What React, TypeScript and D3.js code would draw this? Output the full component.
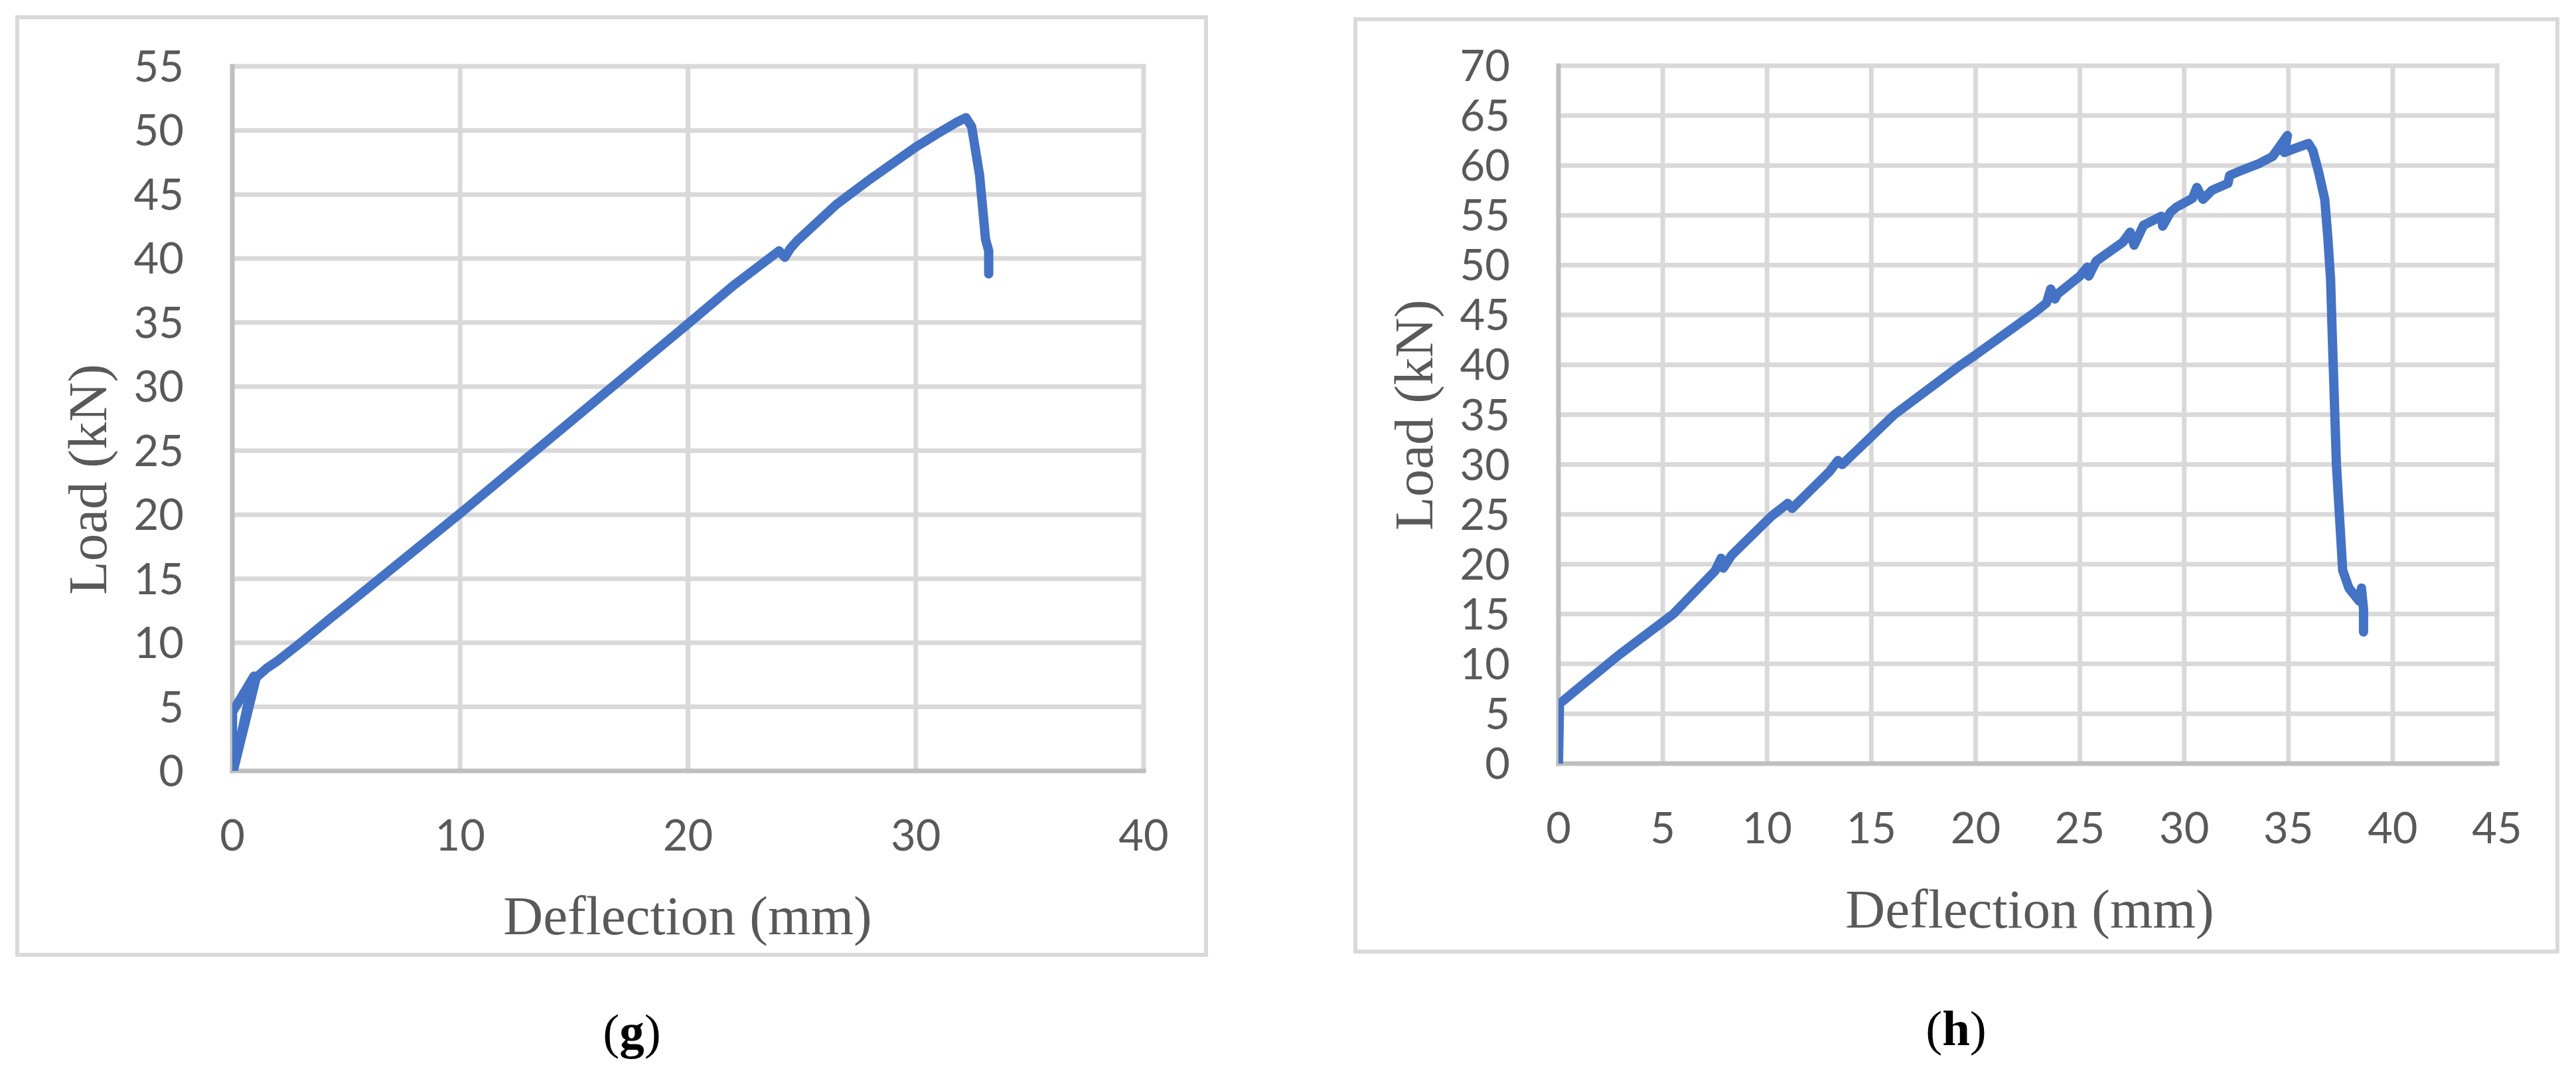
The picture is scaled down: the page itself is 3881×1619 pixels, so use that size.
import React from "react";
import * as d3 from "d3";

// ---- data ----
const gDeflection = [0, 0.01, 0.95, 0.05, 1.05, 1.5, 2.0, 3.0, 4.3, 5.0, 7.5, 10, 12.5, 15, 17.5, 20, 22, 24.0, 24.25, 24.5, 24.8, 26.5, 28, 30, 31, 31.75, 32.2, 32.45, 32.8, 32.9, 33.06, 33.2, 33.2];
const gLoad = [0, 4.6, 7.4, 0.05, 7.3, 8.0, 8.6, 10.0, 11.9, 12.9, 16.5, 20.1, 23.8, 27.5, 31.2, 34.9, 37.9, 40.6, 40.1, 40.8, 41.4, 44.2, 46.2, 48.7, 49.8, 50.6, 51.0, 50.3, 46.5, 44.6, 41.5, 40.6, 38.8];

const hDeflection = [0, 0.05, 0.8, 2.9, 5.5, 7.5, 7.8, 7.9, 8.3, 10.2, 11.0, 11.2, 13.0, 13.4, 13.6, 16.1, 19.3, 20.0, 22.8, 23.4, 23.6, 23.8, 23.93, 25.0, 25.36, 25.43, 25.78, 27.06, 27.41, 27.6, 28.05, 28.9, 28.97, 29.34, 29.62, 30.4, 30.61, 30.9, 31.33, 32.1, 32.18, 32.75, 33.6, 34.24, 34.95, 34.8, 35.3, 35.96, 36.17, 36.45, 36.74, 36.88, 37.02, 37.1, 37.3, 37.6, 37.9, 38.4, 38.5, 38.6, 38.6];
const hLoad = [0, 6.0, 7.3, 10.9, 15.0, 19.3, 20.6, 19.6, 20.9, 24.8, 26.1, 25.6, 29.3, 30.4, 30.0, 35.0, 40.0, 41.0, 45.2, 46.2, 47.6, 46.6, 47.1, 48.9, 49.8, 48.9, 50.4, 52.3, 53.3, 52.0, 54.0, 54.9, 53.9, 55.3, 55.8, 56.7, 57.8, 56.6, 57.5, 58.2, 59.0, 59.5, 60.2, 60.9, 63.0, 61.3, 61.7, 62.2, 61.5, 59.3, 56.6, 53.0, 48.6, 43.0, 30.0, 19.4, 17.6, 16.3, 17.6, 15.5, 13.2];

const gXTicks = [0, 10, 20, 30, 40];
const gYTicks = [0, 5, 10, 15, 20, 25, 30, 35, 40, 45, 50, 55];
const hXTicks = [0, 5, 10, 15, 20, 25, 30, 35, 40, 45];
const hYTicks = [0, 5, 10, 15, 20, 25, 30, 35, 40, 45, 50, 55, 60, 65, 70];

const xTitle = "Deflection (mm)";
const yTitle = "Load (kN)";
const panelLetters = ["g", "h"];

type Layout = {
  frame: [number, number, number, number];
  plot: [number, number, number, number]; // x0, x1, yTop, yBottom
  yTitlePos: [number, number];
  xTitlePos: [number, number];
  captionPos: [number, number];
};

const layouts: Layout[] = [
  { frame: [26, 26, 1817, 1438], plot: [350, 1723, 100, 1161], yTitlePos: [160, 722], xTitlePos: [1036, 1407], captionPos: [952, 1579] },
  { frame: [2042, 29, 3853, 1433], plot: [2348, 3762, 99, 1150], yTitlePos: [2158, 625], xTitlePos: [3058, 1397], captionPos: [2947, 1574] },
];

const GRID = "#d9d9d9";
const AXIS = "#bfbfbf";
const TEXT = "#595959";
const LINE = "#4472c4";
const TICK_FONT = "Lato, 'Open Sans', sans-serif";
const SERIF = "'Liberation Serif', 'Times New Roman', serif";

function Panel(props: {
  id: string;
  xs: number[];
  ys: number[];
  xTicks: number[];
  yTicks: number[];
  letter: string;
  layout: Layout;
}) {
  const { id, xs, ys, xTicks, yTicks, letter, layout } = props;
  const [x0, x1, yT, yB] = layout.plot;
  const x = d3.scaleLinear().domain([xTicks[0], xTicks[xTicks.length - 1]]).range([x0, x1]);
  const y = d3.scaleLinear().domain([yTicks[0], yTicks[yTicks.length - 1]]).range([yB, yT]);
  const pts = xs.map((v, i) => [v, ys[i]] as [number, number]);
  const path = d3
    .line<[number, number]>()
    .x((d) => x(d[0]))
    .y((d) => y(d[1]))(pts) || "";
  const [fx1, fy1, fx2, fy2] = layout.frame;
  return (
    <g>
      <defs>
        <clipPath id={id}>
          <rect x={x0} y={yT - 4} width={x1 - x0 + 4} height={yB - yT + 4} />
        </clipPath>
      </defs>
      <rect x={fx1} y={fy1} width={fx2 - fx1} height={fy2 - fy1} fill="#fff" stroke={GRID} strokeWidth={6} />
      {yTicks.slice(1).map((t) => (
        <line key={"h" + t} x1={x0} x2={x1 + 3.5} y1={y(t)} y2={y(t)} stroke={GRID} strokeWidth={7} />
      ))}
      {xTicks.slice(1).map((t) => (
        <line key={"v" + t} x1={x(t)} x2={x(t)} y1={yT - 3.5} y2={yB} stroke={GRID} strokeWidth={7} />
      ))}
      <line x1={x0} x2={x0} y1={yT - 3.5} y2={yB + 3.5} stroke={AXIS} strokeWidth={7} />
      <line x1={x0 - 3.5} x2={x1 + 3.5} y1={yB} y2={yB} stroke={AXIS} strokeWidth={7} />
      {yTicks.map((t) => (
        <text key={"yl" + t} x={x0 - 73} y={y(t) + 23} textAnchor="end" fontFamily={TICK_FONT} fontSize={65} fill={TEXT}>
          {t}
        </text>
      ))}
      {xTicks.map((t) => (
        <text key={"xl" + t} x={x(t)} y={yB + 120} textAnchor="middle" fontFamily={TICK_FONT} fontSize={65} fill={TEXT}>
          {t}
        </text>
      ))}
      <path d={path} fill="none" stroke={LINE} strokeWidth={14} strokeLinejoin="round" strokeLinecap="round" clipPath={`url(#${id})`} />
      <text
        transform={`translate(${layout.yTitlePos[0]},${layout.yTitlePos[1]}) rotate(-90)`}
        textAnchor="middle"
        fontFamily={SERIF}
        fontSize={83}
        fill={TEXT}
      >
        {yTitle}
      </text>
      <text x={layout.xTitlePos[0]} y={layout.xTitlePos[1]} textAnchor="middle" fontFamily={SERIF} fontSize={83} fill={TEXT}>
        {xTitle}
      </text>
      <text x={layout.captionPos[0]} y={layout.captionPos[1]} textAnchor="middle" fontFamily={SERIF} fontSize={75} fill="#000">
        (<tspan fontWeight="bold">{letter}</tspan>)
      </text>
    </g>
  );
}

export default function App() {
  return (
    <div style={{ position: "absolute", left: 0, top: 0, width: 3881, height: 1619, background: "#fff" }}>
      <svg width={3881} height={1619} style={{ display: "block" }}>
        <rect width={3881} height={1619} fill="#fff" />
        <Panel id="clipG" xs={gDeflection} ys={gLoad} xTicks={gXTicks} yTicks={gYTicks} letter={panelLetters[0]} layout={layouts[0]} />
        <Panel id="clipH" xs={hDeflection} ys={hLoad} xTicks={hXTicks} yTicks={hYTicks} letter={panelLetters[1]} layout={layouts[1]} />
      </svg>
    </div>
  );
}
